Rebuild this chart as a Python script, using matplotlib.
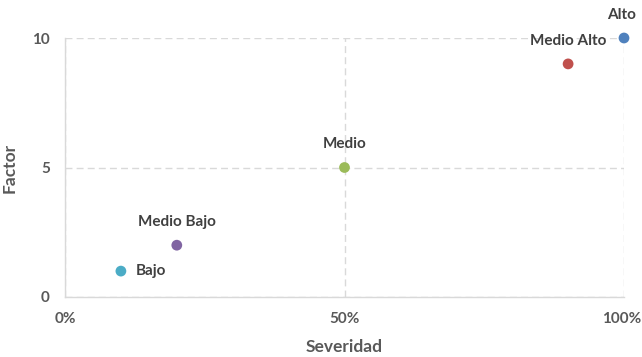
import matplotlib
matplotlib.use("Agg")
import matplotlib.pyplot as plt
from matplotlib.ticker import PercentFormatter

# Risk levels: severity (fraction) vs factor
categorias = ["Bajo", "Medio Bajo", "Medio", "Medio Alto", "Alto"]
severidad = [0.10, 0.20, 0.50, 0.90, 1.00]
factor = [1, 2, 5, 9, 10]
colores = ["#4BACC6", "#8064A2", "#9BBB59", "#C0504D", "#4F81BD"]
# label placement relative to each point: (dx px, dy px, ha)
posiciones = {"Bajo": (15, 0, "left"), "Medio Bajo": (0, 23, "center"),
              "Medio": (0, 23, "center"), "Medio Alto": (0, 23, "center"),
              "Alto": (-2, 23, "center")}

plt.rcParams["font.family"] = ["Lato", "DejaVu Sans"]

fig = plt.figure(figsize=(6.42, 3.57), dpi=100)
ax = fig.add_axes([65/642, 1-297/357, 559/642, 259/357])

for nombre, x, y, c in zip(categorias, severidad, factor, colores):
    ax.scatter(x, y, s=60, color=c, zorder=3, clip_on=False, edgecolors="none")
    dx, dy, ha = posiciones[nombre]
    ax.annotate(nombre, (x, y), xytext=(dx * 0.72, dy * 0.72), textcoords="offset points",
                ha=ha, va="center", fontsize=11, fontweight="bold", color="#404040",
                zorder=4)

ax.set_xlim(0, 1)
ax.set_ylim(0, 10)
ax.set_xticks([0, 0.5, 1.0])
ax.set_yticks([0, 5, 10])
ax.xaxis.set_major_formatter(PercentFormatter(xmax=1, decimals=0))

ax.grid(True, color="#D9D9D9", linestyle=(0, (5, 3)), linewidth=1.0)
ax.set_axisbelow(True)
for s in ["top", "right"]:
    ax.spines[s].set_visible(False)
for s in ["left", "bottom"]:
    ax.spines[s].set_color("#D9D9D9")
    ax.spines[s].set_linewidth(1.0)

ax.tick_params(length=0, labelsize=11, labelcolor="#595959")
for lab in ax.get_xticklabels() + ax.get_yticklabels():
    lab.set_fontweight("bold")
ax.tick_params(axis="x", pad=11)
ax.tick_params(axis="y", pad=11)
# keep the right-most percentage label inside the canvas
ax.get_xticklabels()[-1].set_horizontalalignment("right")
ax.get_xticklabels()[-1].set_x(1.0)
for lab in ax.get_xticklabels()[-1:]:
    lab.set_transform(lab.get_transform() + matplotlib.transforms.ScaledTranslation(17/100, 0, fig.dpi_scale_trans))

ax.set_xlabel("Severidad", fontsize=12.5, fontweight="bold", color="#595959", labelpad=9)
ax.set_ylabel("Factor", fontsize=12.5, fontweight="bold", color="#595959", labelpad=10)

fig.savefig("out.png", dpi=100)
